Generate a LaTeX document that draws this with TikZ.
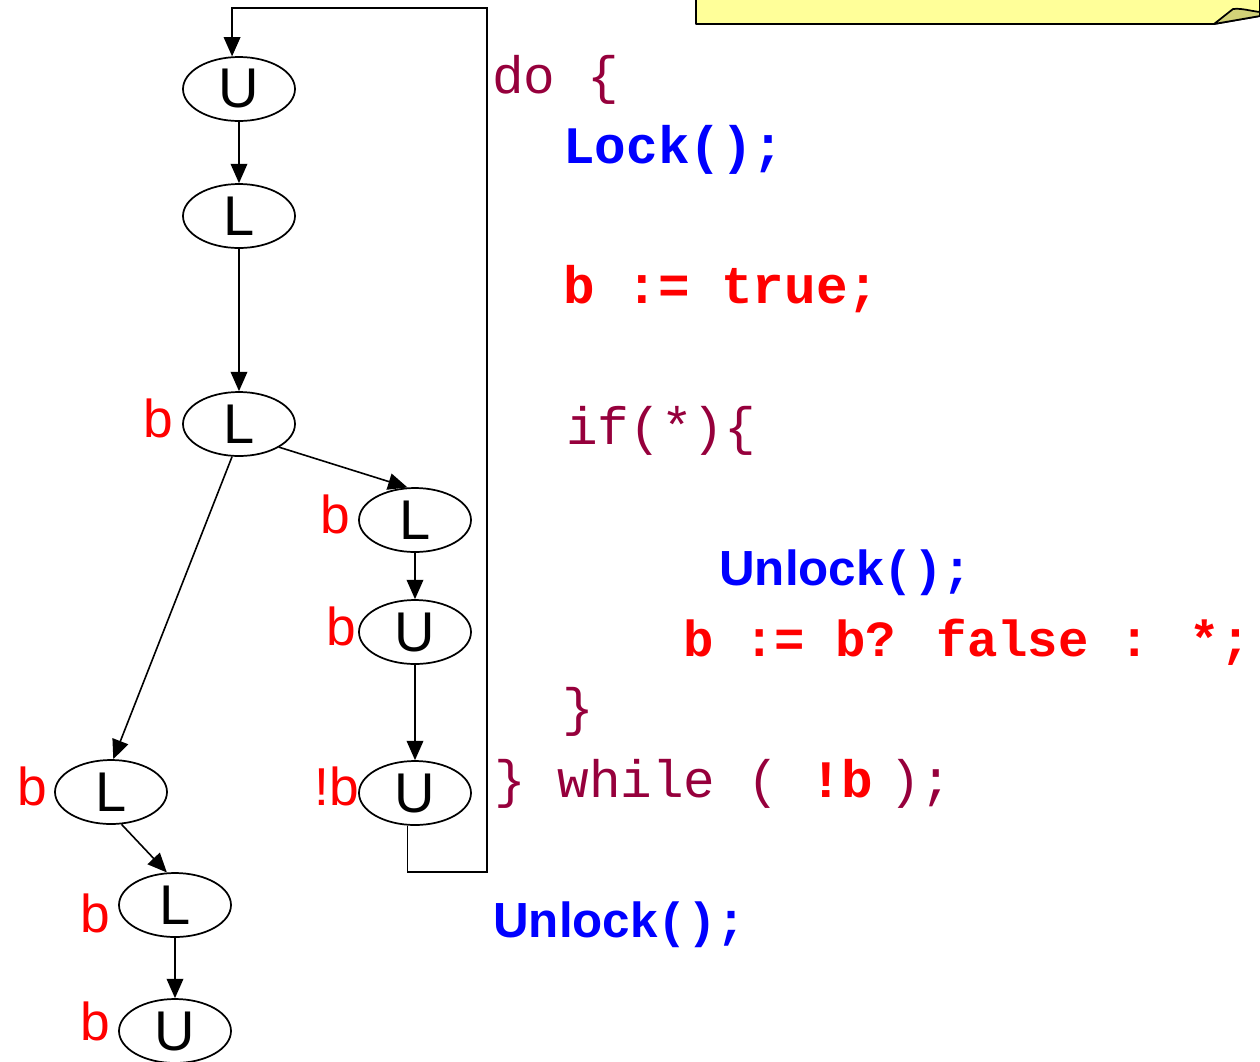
\documentclass[tikz,border=0pt]{standalone}
\usepackage{fontspec}
\setmainfont{Liberation Sans}
\newfontfamily\codefont{Liberation Mono}
\usetikzlibrary{shapes.geometric,arrows.meta}
\definecolor{kw}{RGB}{150,0,60}
\definecolor{notefill}{RGB}{255,255,153}
\definecolor{foldfill}{RGB}{210,210,120}

\begin{document}
\begin{tikzpicture}[x=0.75pt,y=-0.75pt,
  state/.style={ellipse, draw, line width=1.3pt, minimum width=84pt,
    minimum height=48pt, inner sep=0pt, font=\fontsize{42}{42}\selectfont},
  cond/.style={text=red, anchor=base east, inner sep=0pt,
    font=\fontsize{40}{40}\selectfont},
  flow/.style={-{Triangle[length=14.5pt,width=12.5pt]}, line width=1.2pt},
  code/.style={anchor=base west, inner sep=0pt,
    font=\codefont\fontsize{39.5}{39.5}\selectfont},
  codebold/.style={code, font=\codefont\bfseries\fontsize{39.5}{39.5}\selectfont},
  call/.style={anchor=base west, inner sep=0pt, text=blue,
    font=\bfseries\fontsize{37}{37}\selectfont}]
\useasboundingbox (0,0) rectangle (1260,1061);

% sticky note with curled corner
\draw[line width=1.3pt, fill=notefill, line join=round]
  (696,-10) -- (696,24) -- (1214,24) -- (1260,16) -- (1260,-10) -- cycle;
\draw[line width=1.3pt, fill=foldfill, line join=round]
  (1214,24) -- (1233,9) .. controls (1242,8) and (1250,11) .. (1260,12)
  -- (1260,16) -- cycle;

% states
\node[state] (u1) at (239,89) {U};
\node[state] (l1) at (239,216) {L};
\node[state] (l2) at (239,424) {L};
\node[state] (l3) at (415,520) {L};
\node[state] (u2) at (415,632) {U};
\node[state] (u3) at (415,793) {U};
\node[state] (l4) at (111,792) {L};
\node[state] (l5) at (175,905) {L};
\node[state] (u4) at (175,1031) {U};

% predicate labels
\node[cond] (cl2) at (173,437) {b};
\node[cond] (cl3) at (350,533) {b};
\node[cond] (cu2) at (356,645) {b};
\node[cond] (cu3) at (359,805) {!b};
\node[cond] (cl4) at (47,805) {b};
\node[cond] (cl5) at (110,932) {b};
\node[cond] (cu4) at (110,1040) {b};

% transitions
\draw[flow] (u1) -- (l1);
\draw[flow] (l1) -- (l2);
\draw[flow] (l2.-30) -- (l3.103);
\draw[flow] (l2.258) -- (l4.86);
\draw[flow] (l3) -- (u2);
\draw[flow] (u2) -- (u3);
\draw[flow] (l4.-72) -- (l5.104);
\draw[flow] (l5) -- (u4);

% back edge of the loop
\coordinate (loopbr) at (487,872);
\coordinate (looptr) at (487,8);
\draw[flow] (u3.257) |- (loopbr) -- (looptr) -| (u1.102);

% program text
\node[code, text=kw] (cdo) at (492,93) {do \{};
\node[codebold, text=blue] (clock) at (563,163) {Lock();};
\node[codebold, text=red] (cset) at (563,303) {b := true;};
\node[code, text=kw] (cif) at (566,444) {if(*)\{};
\node[call] (cunl) at (719,585) {Unlock{\codefont();}};
\node[codebold, text=red, font=\codefont\bfseries\fontsize{38}{38}\selectfont]
  (cnd) at (683,656) {b := b? false : *;};
\node[code, text=kw] (cend) at (562,725) {\}};
\node[code, text=kw] (cwhile) at (494,797)
  {\} while ( {\bfseries\color{red}!b}\hspace{0.3em});};
\node[call] (cunl2) at (493,937) {Unlock{\codefont();}};
\end{tikzpicture}
\end{document}
